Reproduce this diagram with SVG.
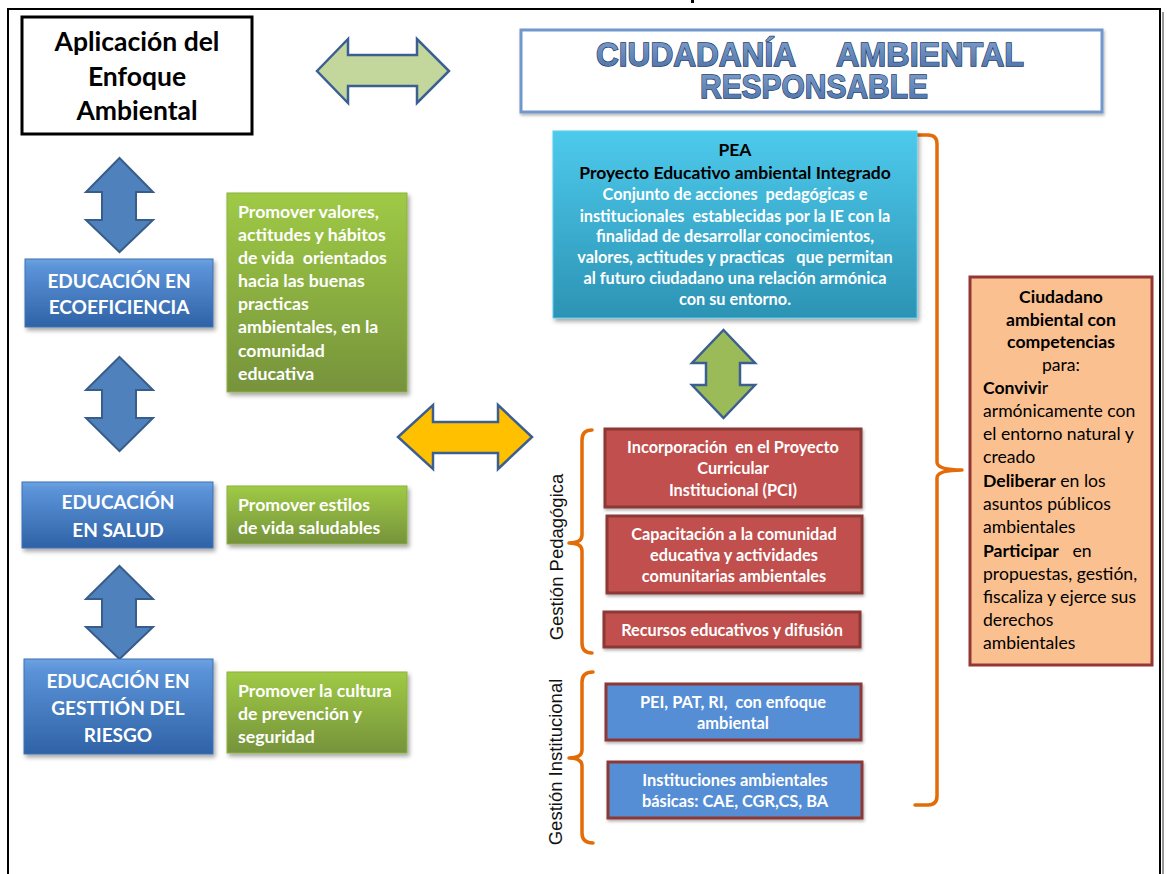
<svg xmlns="http://www.w3.org/2000/svg" width="1167" height="874" viewBox="0 0 1167 874">
<defs>
<linearGradient id="gBlue" x1="0" y1="0" x2="0" y2="1">
<stop offset="0" stop-color="#6CA2E1"/><stop offset="0.12" stop-color="#5B93D8"/><stop offset="1" stop-color="#2F62A6"/>
</linearGradient>
<linearGradient id="gGreen" x1="0" y1="0" x2="0" y2="1">
<stop offset="0" stop-color="#9FCA45"/><stop offset="1" stop-color="#76933C"/>
</linearGradient>
<linearGradient id="gCyan" x1="0" y1="0" x2="0" y2="1">
<stop offset="0" stop-color="#4DCAEC"/><stop offset="1" stop-color="#2C93B4"/>
</linearGradient>
<linearGradient id="gTitle" x1="0" y1="0" x2="0" y2="1">
<stop offset="0" stop-color="#7FA1CF"/><stop offset="1" stop-color="#4B70A6"/>
</linearGradient>
<filter id="sh" x="-10%" y="-10%" width="130%" height="140%">
<feDropShadow dx="2" dy="3" stdDeviation="2" flood-color="#000" flood-opacity="0.35"/>
</filter>
<filter id="shs" x="-10%" y="-10%" width="130%" height="140%">
<feDropShadow dx="1" dy="2" stdDeviation="1.5" flood-color="#000" flood-opacity="0.3"/>
</filter>
</defs>
<style>
.cal{font-family:Lato,"Open Sans","Liberation Sans",sans-serif;font-weight:bold}
.reg{font-family:Lato,"Open Sans","Liberation Sans",sans-serif;font-weight:normal}
.wt{fill:#fff}
.bk{fill:#000}
.mid{text-anchor:middle}
.edu{fill:url(#gBlue);stroke:#3F73B5;stroke-width:1;filter:url(#sh)}
.grn{fill:url(#gGreen);stroke:#8DB03F;stroke-width:1;filter:url(#sh)}
.red{fill:#C0504D;stroke:#8C3836;stroke-width:3;filter:url(#shs)}
.inst{fill:#558ED5;stroke:#8C3836;stroke-width:3;filter:url(#shs)}
.barr{fill:#4F81BD;stroke:#385D8A;stroke-width:2;stroke-linejoin:miter}
.brace{fill:none;stroke:#E36C09;stroke-width:3.5;stroke-linejoin:round;stroke-linecap:round}
.ttl{font-family:"Liberation Sans",Arial,sans-serif;font-weight:bold;font-size:33px;fill:url(#gTitle);stroke:#17375E;stroke-width:1.3;paint-order:stroke}
.vert{font-family:"Liberation Sans",Arial,sans-serif;font-size:18.5px;fill:#111;text-anchor:middle}
</style>
<rect width="1167" height="874" fill="#fff"/>
<!-- frame -->
<line x1="1163" y1="12" x2="1163" y2="874" stroke="#999" stroke-width="2"/>
<rect x="8" y="9" width="1152" height="900" fill="none" stroke="#000" stroke-width="2"/>
<rect x="691" y="0" width="3" height="3" fill="#000"/>

<g id="connectors">
<polygon points="317,71 348,39 348,55 417,55 417,39 449,71 417,103 417,86 348,86 348,103" fill="#C3D69B" stroke="#3C5F91" stroke-width="2.5"/>
<polygon points="119.5,158 153,192 136,192 136,220 153,220 119.5,252 86,220 102,220 102,192 86,192" class="barr"/>
<polygon points="119.5,357 153,390 136,390 136,418 153,418 119.5,451 86,418 102,418 102,390 86,390" class="barr"/>
<polygon points="119.5,566 153,599 136,599 136,627 153,627 119.5,659 86,627 102,627 102,599 86,599" class="barr"/>
<polygon points="723.5,330 755,363 740,363 740,385 755,385 723.5,418 692,385 706,385 706,363 692,363" fill="#9BBB59" stroke="#3C5F91" stroke-width="2.5"/>
<polygon points="398,437 433,405 433,422 498,422 498,405 532,437 498,469 498,453 433,453 433,469" fill="#FFC000" stroke="#3C5F91" stroke-width="2.5"/>
<path class="brace" d="M915,135 L928,135 Q937,135 937,144 L937,462 Q937,470 962,470 Q937,470 937,478 L937,796 Q937,805 928,805 L915,805"/>
<path class="brace" d="M592,430 Q582,430 582,440 L582,535 Q582,543 569,543 Q582,543 582,551 L582,643 Q582,653 592,653"/>
<path class="brace" d="M593,672 Q582,672 582,682 L582,750 Q582,758 569,758 Q582,758 582,766 L582,833 Q582,843 593,843"/>
</g>

<g id="aplicacion">
<rect x="22" y="17" width="230" height="117" fill="#fff" stroke="#000" stroke-width="3"/>
<text class="cal bk mid" font-size="26.5" x="137"><tspan x="137" y="51">Aplicación del</tspan><tspan x="137" y="86">Enfoque</tspan><tspan x="137" y="120">Ambiental</tspan></text>
</g>

<g id="ciudadania">
<rect x="521" y="30" width="581" height="82" fill="#fff" stroke="#7098CB" stroke-width="3" filter="url(#shs)"/>
<text class="ttl" x="596" y="66" textLength="200" lengthAdjust="spacingAndGlyphs">CIUDADANÍA</text>
<text class="ttl" x="836" y="66" textLength="188" lengthAdjust="spacingAndGlyphs">AMBIENTAL</text>
<text class="ttl" x="700" y="98" textLength="228" lengthAdjust="spacingAndGlyphs">RESPONSABLE</text>
</g>

<g id="pea">
<rect x="553" y="131" width="364" height="187" fill="url(#gCyan)" stroke="#5BCDEE" stroke-width="1" filter="url(#sh)"/>
<text class="cal bk mid" font-size="17.5"><tspan x="735" y="156">PEA</tspan><tspan x="735" y="179">Proyecto Educativo ambiental Integrado</tspan></text>
<text class="cal wt mid" font-size="16.3" xml:space="preserve"><tspan x="735" y="200">Conjunto de acciones  pedagógicas e</tspan><tspan x="735" y="222">institucionales  establecidas por la IE con la</tspan><tspan x="735" y="242">finalidad de desarrollar conocimientos,</tspan><tspan x="735" y="263">valores, actitudes y practicas   que permitan</tspan><tspan x="735" y="284">al futuro ciudadano una relación armónica</tspan><tspan x="735" y="305">con su entorno.</tspan></text>
</g>

<g id="edu-ecoeficiencia">
<rect x="25" y="259" width="188" height="68" class="edu"/>
<text class="cal wt mid" font-size="19"><tspan x="119" y="288">EDUCACIÓN EN</tspan><tspan x="119" y="314">ECOEFICIENCIA</tspan></text>
</g>
<g id="promover-valores">
<rect x="227" y="193" width="180" height="199" class="grn"/>
<text class="cal wt" font-size="17.7" xml:space="preserve"><tspan x="238" y="218">Promover valores,</tspan><tspan x="238" y="241">actitudes y hábitos</tspan><tspan x="238" y="264">de vida  orientados</tspan><tspan x="238" y="287">hacia las buenas</tspan><tspan x="238" y="310">practicas</tspan><tspan x="238" y="333">ambientales, en la</tspan><tspan x="238" y="357">comunidad</tspan><tspan x="238" y="380">educativa</tspan></text>
</g>

<g id="edu-salud">
<rect x="22" y="482" width="191" height="66" class="edu"/>
<text class="cal wt mid" font-size="19"><tspan x="118" y="509">EDUCACIÓN</tspan><tspan x="118" y="537">EN SALUD</tspan></text>
</g>
<g id="promover-estilos">
<rect x="227" y="486" width="180" height="58" class="grn"/>
<text class="cal wt" font-size="17.7"><tspan x="238" y="511">Promover estilos</tspan><tspan x="238" y="534">de vida saludables</tspan></text>
</g>

<g id="edu-riesgo">
<rect x="24" y="659" width="189" height="95" class="edu"/>
<text class="cal wt mid" font-size="19"><tspan x="118" y="688">EDUCACIÓN EN</tspan><tspan x="118" y="715">GESTTIÓN DEL</tspan><tspan x="118" y="742">RIESGO</tspan></text>
</g>
<g id="promover-cultura">
<rect x="227" y="672" width="180" height="81" class="grn"/>
<text class="cal wt" font-size="17.7"><tspan x="238" y="697">Promover la cultura</tspan><tspan x="238" y="720">de prevención y</tspan><tspan x="238" y="743">seguridad</tspan></text>
</g>

<g id="gestion-pedagogica">
<text class="vert" transform="translate(563,557) rotate(-90)">Gestión Pedagógica</text>
</g>
<g id="pci">
<rect x="605" y="429" width="256" height="78" class="red"/>
<text class="cal wt mid" font-size="16.3" xml:space="preserve"><tspan x="733" y="453">Incorporación  en el Proyecto</tspan><tspan x="733" y="474">Curricular</tspan><tspan x="733" y="496">Institucional (PCI)</tspan></text>
</g>
<g id="capacitacion">
<rect x="607" y="516" width="255" height="77" class="red"/>
<text class="cal wt mid" font-size="16.3"><tspan x="734" y="540">Capacitación a la comunidad</tspan><tspan x="734" y="561">educativa y actividades</tspan><tspan x="734" y="582">comunitarias ambientales</tspan></text>
</g>
<g id="recursos">
<rect x="604" y="612" width="256" height="35" class="red"/>
<text class="cal wt mid" font-size="16.3" x="732" y="636">Recursos educativos y difusión</text>
</g>

<g id="gestion-institucional">
<text class="vert" transform="translate(562,762) rotate(-90)">Gestión Institucional</text>
</g>
<g id="pei">
<rect x="606" y="684" width="255" height="56" class="inst"/>
<text class="cal wt mid" font-size="16.4" xml:space="preserve"><tspan x="733" y="708">PEI, PAT, RI,  con enfoque</tspan><tspan x="733" y="729">ambiental</tspan></text>
</g>
<g id="instituciones">
<rect x="608" y="762" width="254" height="56" class="inst"/>
<text class="cal wt mid" font-size="16.4"><tspan x="735" y="786">Instituciones ambientales</tspan><tspan x="735" y="807">básicas: CAE, CGR,CS, BA</tspan></text>
</g>

<g id="ciudadano">
<rect x="970" y="277" width="182" height="388" fill="#FAC090" stroke="#943634" stroke-width="3"/>
<text class="cal bk mid" font-size="17.6"><tspan x="1061" y="303">Ciudadano</tspan><tspan x="1061" y="326">ambiental con</tspan><tspan x="1061" y="348">competencias</tspan></text>
<text class="reg bk mid" font-size="17.6" x="1061" y="371">para:</text>
<text class="reg bk" font-size="17.6" xml:space="preserve"><tspan x="983" y="394"><tspan font-weight="bold">Convivi</tspan>r</tspan><tspan x="983" y="417">armónicamente con</tspan><tspan x="983" y="440">el entorno natural y</tspan><tspan x="983" y="463">creado</tspan><tspan x="983" y="487"><tspan font-weight="bold">Deliberar</tspan> en los</tspan><tspan x="983" y="510">asuntos públicos</tspan><tspan x="983" y="533">ambientales</tspan><tspan x="983" y="557"><tspan font-weight="bold">Participar</tspan>   en</tspan><tspan x="983" y="580">propuestas, gestión,</tspan><tspan x="983" y="603">fiscaliza y ejerce sus</tspan><tspan x="983" y="626">derechos</tspan><tspan x="983" y="649">ambientales</tspan></text>
</g>
</svg>
